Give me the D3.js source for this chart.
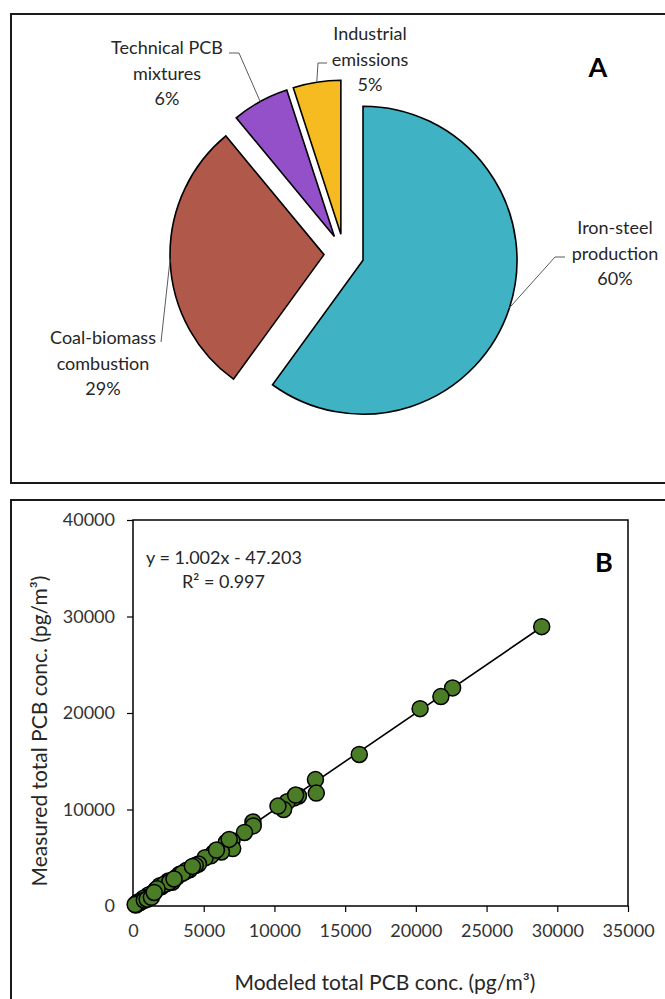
<!DOCTYPE html>
<html>
<head>
<meta charset="utf-8">
<script src="https://cdn.jsdelivr.net/npm/d3@7"></script>
<style>
  html, body { margin: 0; padding: 0; background: #fff; }
  svg { display: block; font-family: Lato, "Open Sans", sans-serif; }
</style>
</head>
<body>
<svg id="fig" width="665" height="999"></svg>
<script>
// ---- Panel A: source apportionment ----
const sources = ["Iron-steel production", "Coal-biomass combustion", "Technical PCB mixtures", "Industrial emissions"];
const shares = [60, 29, 6, 5];
const sourceLabelLines = [["Iron-steel", "production"], ["Coal-biomass", "combustion"], ["Technical PCB", "mixtures"], ["Industrial", "emissions"]];
const sliceColors = ["#3fb2c4", "#b0584a", "#9350c9", "#f6bb21"];

// ---- Panel B: modeled vs measured totals (pg/m3) ----
const modeled = [28900, 22600, 21770, 20300, 16000, 12900, 12960, 11700, 11400, 10900,
  10650, 10250, 8480, 8500, 7880, 7000, 6600, 7050, 6250, 5700,
  5500, 5100, 4630, 4400, 4000, 3700, 3300, 3100, 2770, 2500,
  2350, 2000, 1900, 1600, 1400, 1250, 1100, 900, 750, 600,
  500, 400, 300, 200, 250, 150, 800, 1000, 1300, 6800,
  5900, 11500, 3800, 2200, 2600, 1700, 3500, 2900, 1500, 4200];
const measured = [28950, 22600, 21700, 20450, 15700, 13100, 11700, 11400, 11200, 10800,
  10000, 10350, 8700, 8300, 7620, 6750, 6600, 5950, 5600, 5500,
  5200, 5000, 4350, 4200, 3750, 3580, 3300, 3000, 2450, 2600,
  2300, 2000, 2100, 1650, 1350, 1100, 1150, 850, 800, 500,
  350, 450, 200, 100, 300, 150, 600, 700, 900, 6900,
  5800, 11500, 3700, 2250, 2500, 1800, 3400, 2800, 1400, 4100];
const fitSlope = 1.002, fitIntercept = -47.203, fitR2 = 0.997;
const xTicks = [0, 5000, 10000, 15000, 20000, 25000, 30000, 35000];
const yTicks = [0, 10000, 20000, 30000, 40000];

const svg = d3.select("#fig");

// panel frames
svg.append("rect").attr("x", 11).attr("y", 14).attr("width", 670).attr("height", 469)
  .attr("fill", "none").attr("stroke", "#1a1a1a").attr("stroke-width", 2);
svg.append("rect").attr("x", 11).attr("y", 500).attr("width", 670).attr("height", 520)
  .attr("fill", "none").attr("stroke", "#1a1a1a").attr("stroke-width", 2);

// ---------- Pie ----------
const pieCenter = [344, 254], pieR = 154, explode = 20;
const pie = d3.pie().sort(null).startAngle(0).endAngle(2 * Math.PI);
const arcs = pie(shares);
const arcGen = d3.arc().innerRadius(0).outerRadius(pieR);
const offsetOf = d => {
  const a = (d.startAngle + d.endAngle) / 2;
  return [explode * Math.sin(a), -explode * Math.cos(a)];
};
const gPie = svg.append("g").attr("transform", `translate(${pieCenter[0]},${pieCenter[1]})`);
gPie.selectAll("path.slice").data(arcs).join("path")
  .attr("class", "slice")
  .attr("d", arcGen)
  .attr("transform", d => { const o = offsetOf(d); return `translate(${o[0]},${o[1]})`; })
  .attr("fill", (d, i) => sliceColors[i])
  .attr("stroke", "#000").attr("stroke-width", 1.6).attr("stroke-linejoin", "miter");

// label placement (absolute page coordinates) and leader elbows
const labelLayout = [
  { x: 615, y: 228, elbow: [[555, 257], [565, 257]] },
  { x: 103, y: 338, elbow: [[161, 342]] },
  { x: 167, y: 48, elbow: [[239, 53], [229, 53]] },
  { x: 370, y: 34, elbow: [[318, 63], [327, 63]] }
];
arcs.forEach((d, i) => {
  const a = (d.startAngle + d.endAngle) / 2;
  const o = offsetOf(d);
  const edge = [pieCenter[0] + o[0] + pieR * Math.sin(a), pieCenter[1] + o[1] - pieR * Math.cos(a)];
  const L = labelLayout[i];
  svg.append("path")
    .attr("d", d3.line()([edge, ...L.elbow]))
    .attr("fill", "none").attr("stroke", "#5a5a5a").attr("stroke-width", 1);
  const t = svg.append("text").attr("text-anchor", "middle")
    .attr("font-size", 18).attr("fill", "#262626");
  const lines = [...sourceLabelLines[i], shares[i] + "%"];
  lines.forEach((s, k) => {
    t.append("tspan").attr("x", L.x).attr("y", L.y + k * 25.5).attr("dy", "0.35em").text(s);
  });
});
svg.append("text").attr("x", 598).attr("y", 68).attr("dy", "0.35em")
  .attr("text-anchor", "middle").attr("font-size", 27).attr("font-weight", 700)
  .attr("fill", "#000").text("A");

// ---------- Scatter ----------
const plot = { left: 133, right: 628, top: 520, bottom: 906 };
const x = d3.scaleLinear().domain([0, 35000]).range([plot.left, plot.right]);
const y = d3.scaleLinear().domain([0, 40000]).range([plot.bottom, plot.top]);

svg.append("rect").attr("x", plot.left).attr("y", plot.top)
  .attr("width", plot.right - plot.left).attr("height", plot.bottom - plot.top)
  .attr("fill", "none").attr("stroke", "#000").attr("stroke-width", 1.5);

const axX = svg.append("g").attr("transform", `translate(0,${plot.bottom})`)
  .call(d3.axisBottom(x).tickValues(xTicks).tickSize(6).tickSizeOuter(0).tickFormat(d3.format("d")));
const axY = svg.append("g").attr("transform", `translate(${plot.left},0)`)
  .call(d3.axisLeft(y).tickValues(yTicks).tickSize(6).tickSizeOuter(0).tickFormat(d3.format("d")));
[axX, axY].forEach(g => {
  g.select(".domain").remove();
  g.selectAll(".tick line").attr("stroke", "#000").attr("stroke-width", 1.2);
  g.selectAll(".tick text").attr("font-family", "Lato, sans-serif").attr("font-size", 18).attr("fill", "#333");
});
axX.selectAll(".tick text").attr("dy", "1.05em").attr("y", 12);
axY.selectAll(".tick text").attr("x", -18);

// fitted trend line across the data range
const xMin = d3.min(modeled), xMax = d3.max(modeled);
svg.append("line")
  .attr("x1", x(xMin)).attr("y1", y(fitSlope * xMin + fitIntercept))
  .attr("x2", x(xMax)).attr("y2", y(fitSlope * xMax + fitIntercept))
  .attr("stroke", "#000").attr("stroke-width", 1.6);

const pts = modeled.map((m, i) => ({ m, v: measured[i] }));
svg.append("g").selectAll("circle").data(pts).join("circle")
  .attr("cx", d => x(d.m)).attr("cy", d => y(d.v)).attr("r", 8)
  .attr("fill", "#4b7d27").attr("stroke", "#000").attr("stroke-width", 1.5);

// equation and R²
svg.append("text").attr("x", 146).attr("y", 558).attr("dy", "0.35em")
  .attr("font-size", 18).attr("fill", "#262626")
  .text(`y = ${fitSlope.toFixed(3)}x - ${Math.abs(fitIntercept).toFixed(3)}`);
svg.append("text").attr("x", 182).attr("y", 582).attr("dy", "0.35em")
  .attr("font-size", 18).attr("fill", "#262626")
  .text(`R² = ${fitR2.toFixed(3)}`);
svg.append("text").attr("x", 604).attr("y", 563).attr("dy", "0.35em")
  .attr("text-anchor", "middle").attr("font-size", 27).attr("font-weight", 700)
  .attr("fill", "#000").text("B");

// axis titles
svg.append("text")
  .attr("transform", `translate(40,${(plot.top + plot.bottom) / 2 + 18}) rotate(-90)`)
  .attr("text-anchor", "middle").attr("dy", "0.35em")
  .attr("font-size", 21).attr("fill", "#262626")
  .text("Measured total PCB conc. (pg/m³)");
svg.append("text").attr("x", 385).attr("y", 983).attr("dy", "0.35em")
  .attr("text-anchor", "middle").attr("font-size", 21).attr("fill", "#262626")
  .text("Modeled total PCB conc. (pg/m³)");
</script>
</body>
</html>
